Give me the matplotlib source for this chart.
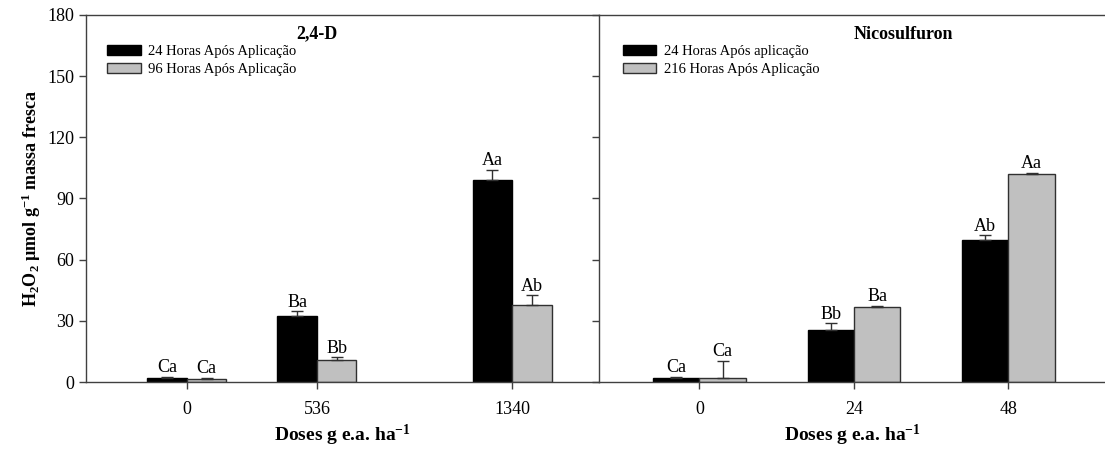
import matplotlib
matplotlib.use("Agg")
import matplotlib.pyplot as plt
import numpy as np

plt.rcParams['font.family'] = ['Liberation Serif', 'DejaVu Serif']
plt.rcParams['mathtext.fontset'] = 'custom'
plt.rcParams['mathtext.rm'] = 'Liberation Serif'
plt.rcParams['mathtext.it'] = 'Liberation Serif:italic'
plt.rcParams['mathtext.bf'] = 'Liberation Serif:bold'

# 2,4-D
doses_24d = [0, 536, 1340]
d24_h24 = [2.1, 32.4, 99.1]
d24_h24_err = [0.4, 2.3, 5.0]
d24_h96 = [1.6, 10.8, 37.9]
d24_h96_err = [0.3, 1.3, 4.6]
d24_lab24 = ['Ca', 'Ba', 'Aa']
d24_lab96 = ['Ca', 'Bb', 'Ab']

# Nicosulfuron
doses_nic = [0, 24, 48]
nic_h24 = [2.1, 25.7, 69.6]
nic_h24_err = [0.3, 3.0, 2.3]
nic_h216 = [1.8, 36.9, 102.0]
nic_h216_err = [8.6, 0.5, 0.7]
nic_lab24 = ['Ca', 'Bb', 'Ab']
nic_lab216 = ['Ca', 'Ba', 'Aa']

yticks = [0, 30, 60, 90, 120, 150, 180]

BLACK = '#000000'
GRAY = '#c0c0c0'
EDGE = '#303030'
SPINE = '#404040'

fig = plt.figure(figsize=(11.05, 4.5), dpi=100)
ax1 = fig.add_axes([0.0778, 0.1511, 0.4643, 0.8156])
ax2 = fig.add_axes([0.5421, 0.1511, 0.4579, 0.8156])


def painel(ax, doses, v1, e1, l1, v2, e2, l2, w, nomes, titulo, tx, lx):
    x = np.array(doses, dtype=float)
    ax.bar(x - w / 2, v1, w, color=BLACK, edgecolor=BLACK, linewidth=1, label=nomes[0], zorder=2)
    ax.bar(x + w / 2, v2, w, color=GRAY, edgecolor=EDGE, linewidth=1, label=nomes[1], zorder=2)
    ax.errorbar(x - w / 2, v1, yerr=[np.zeros(len(v1)), e1], fmt='none',
                ecolor=EDGE, elinewidth=1, capsize=4.3, capthick=1, zorder=3)
    ax.errorbar(x + w / 2, v2, yerr=[np.zeros(len(v2)), e2], fmt='none',
                ecolor=EDGE, elinewidth=1, capsize=4.3, capthick=1, zorder=3)
    for i in range(len(x)):
        ax.annotate(l1[i], (x[i] - w / 2, v1[i] + e1[i]), xytext=(0, 0.5),
                    textcoords='offset points', ha='center', va='bottom', fontsize=13)
        ax.annotate(l2[i], (x[i] + w / 2, v2[i] + e2[i]), xytext=(0, 0.5),
                    textcoords='offset points', ha='center', va='bottom', fontsize=13)
    ax.set_ylim(0, 180)
    ax.set_yticks(yticks)
    ax.set_xticks(doses)
    ax.set_xticklabels([str(d) for d in doses], fontsize=13)
    ax.tick_params(axis='both', direction='out', length=5, width=1, color=SPINE, labelsize=13)
    ax.tick_params(axis='x', pad=9)
    ax.spines['right'].set_visible(False)
    for s in ['left', 'top', 'bottom']:
        ax.spines[s].set_color(SPINE)
        ax.spines[s].set_linewidth(1)
    ax.text(tx, 0.948, titulo, transform=ax.transAxes, ha='center', va='center',
            fontsize=13, fontweight='bold')
    ax.legend(loc='upper left', bbox_to_anchor=(lx, 0.918), frameon=False, fontsize=10.5,
              handlelength=2.3, handleheight=0.7, labelspacing=0.32, handletextpad=0.5,
              borderpad=0, borderaxespad=0)
    ax.set_xlabel('Doses g e.a. ha$^{\\mathbf{-1}}$', fontsize=14, fontweight='bold', labelpad=3)


painel(ax1, doses_24d, d24_h24, d24_h24_err, d24_lab24, d24_h96, d24_h96_err, d24_lab96,
       163, ['24 Horas Após Aplicação', '96 Horas Após Aplicação'], '2,4-D', 0.451, 0.041)
ax1.set_xlim(-415, 1698)

painel(ax2, doses_nic, nic_h24, nic_h24_err, nic_lab24, nic_h216, nic_h216_err, nic_lab216,
       7.2, ['24 Horas Após aplicação', '216 Horas Após Aplicação'], 'Nicosulfuron', 0.601, 0.047)
ax2.set_xlim(-15.6, 63.0)
ax2.set_yticklabels([])

ax1.set_ylabel('H$_{\\mathbf{2}}$O$_{\\mathbf{2}}$ µmol g$^{\\mathbf{-1}}$ massa fresca',
               fontsize=13, fontweight='bold', labelpad=3)

fig.savefig('out.png', dpi=100)
